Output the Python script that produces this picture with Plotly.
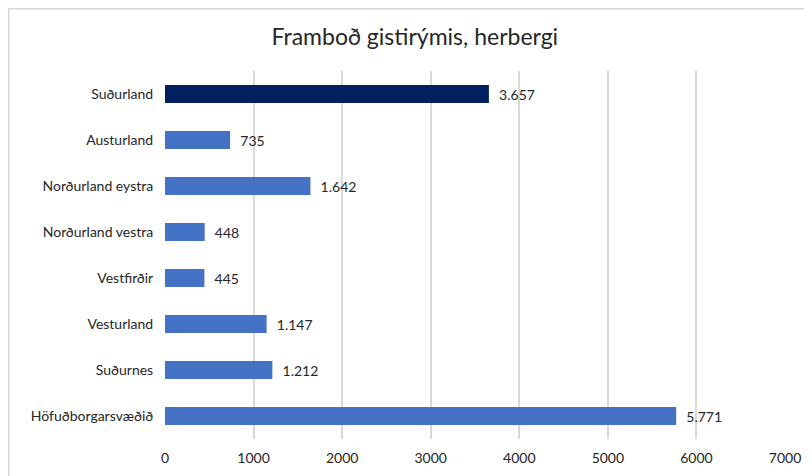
import plotly.graph_objects as go

# regions, top to bottom as drawn
regions = ["Suðurland", "Austurland", "Norðurland eystra", "Norðurland vestra",
           "Vestfirðir", "Vesturland", "Suðurnes", "Höfuðborgarsvæðið"]
rooms = [3657, 735, 1642, 448, 445, 1147, 1212, 5771]
highlight = "Suðurland"

x_ticks = [0, 1000, 2000, 3000, 4000, 5000, 6000, 7000]

bar_colors = ["#002060" if r == highlight else "#4472C4" for r in regions]

fig = go.Figure()
fig.add_trace(
    go.Bar(
        x=rooms,
        y=regions,
        orientation="h",
        marker=dict(color=bar_colors, line=dict(width=0)),
        width=0.39,
        text=rooms,
        texttemplate="  %{x:,}",
        textposition="outside",
        textfont=dict(size=14, color="#262626"),
        cliponaxis=False,
        showlegend=False,
    )
)

# page body has an 8px margin, so margins are shifted to compensate
fig.update_layout(
    width=812,
    height=476,
    separators=",.",
    paper_bgcolor="white",
    plot_bgcolor="white",
    font=dict(family="Lato, Carlito, sans-serif", size=14, color="#262626"),
    title=dict(
        text="Framboð gistirýmis, herbergi",
        x=0.501, xanchor="center",
        y=1 - 29 / 476, yanchor="middle",
        font=dict(size=23, color="#262626"),
    ),
    margin=dict(l=157, r=35, t=63, b=45, autoexpand=False),
    xaxis=dict(
        range=[0, 7000],
        tickvals=x_ticks,
        tickformat="d",
        showgrid=True,
        gridcolor="#D9D9D9",
        gridwidth=1.6,
        zeroline=False,
        showline=False,
        ticks="outside",
        ticklen=6,
        tickcolor="white",
        automargin=False,
        tickfont=dict(size=14, color="#262626"),
    ),
    yaxis=dict(
        type="category",
        categoryorder="array",
        categoryarray=regions,
        autorange="reversed",
        showgrid=False,
        zeroline=False,
        showline=False,
        ticks="outside",
        ticklen=8,
        tickcolor="white",
        automargin=False,
        tickfont=dict(size=14, color="#262626"),
    ),
    shapes=[
        dict(
            type="rect", xref="paper", yref="paper",
            x0=(0.75 - 157) / 620, x1=1.3, y0=-0.3, y1=(431 - 0.75) / 368,
            line=dict(color="#D9D9D9", width=1.5),
            fillcolor="rgba(0,0,0,0)",
            layer="below",
        )
    ],
)

fig.write_html("out.html")
